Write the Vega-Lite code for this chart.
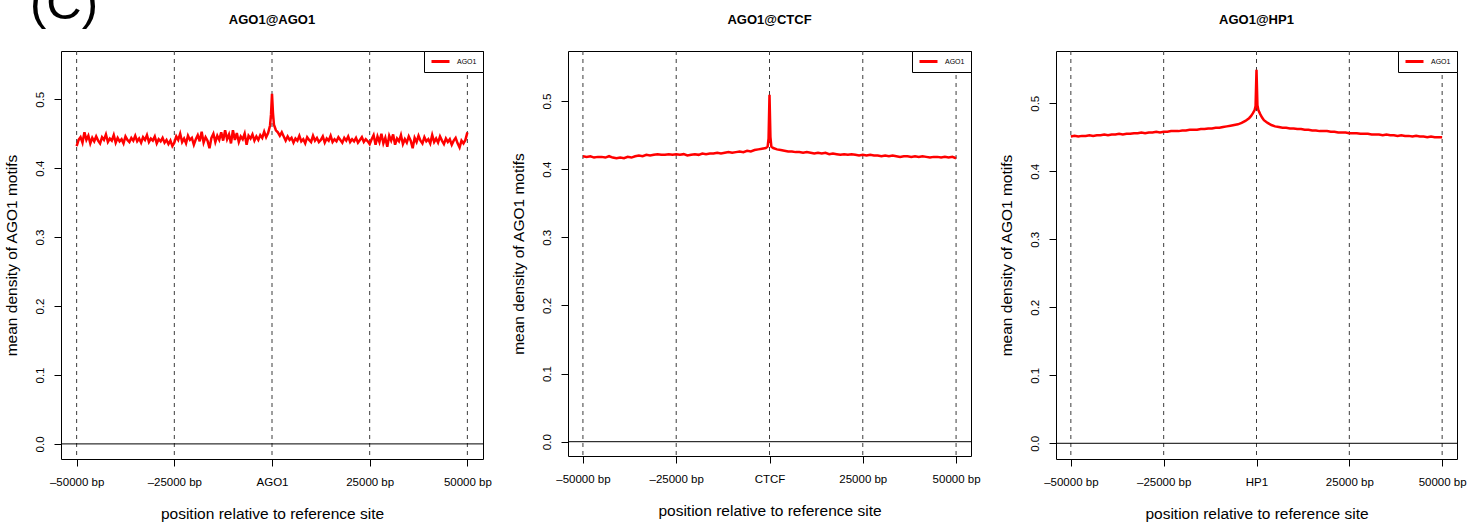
{
"$schema": "https://vega.github.io/schema/vega-lite/v6.json",
"autosize": {"type": "none"},
"padding": {"left": 61, "top": 51, "right": 1417, "bottom": 473},
"title": {"text": "(C)", "anchor": "start", "frame": "group", "fontSize": 49, "fontWeight": "normal", "offset": 0, "baseline": "bottom", "dx": -31, "dy": 65},
"spacing": 85,
"bounds": "flush",
"datasets": {
"guides": [{"pos": -50000}, {"pos": -25000}, {"pos": 0}, {"pos": 25000}, {"pos": 50000}],
"zero": [{"level": 0}],
"ago": [
{"pos":-50000,"density":0.432},{"pos":-49500,"density":0.441},{"pos":-49000,"density":0.445},{"pos":-48500,"density":0.437},{"pos":-48000,"density":0.452},{"pos":-47500,"density":0.441},{"pos":-47000,"density":0.447},{"pos":-46500,"density":0.436},{"pos":-46000,"density":0.444},{"pos":-45500,"density":0.439},
{"pos":-45000,"density":0.446},{"pos":-44500,"density":0.440},{"pos":-44000,"density":0.436},{"pos":-43500,"density":0.445},{"pos":-43000,"density":0.441},{"pos":-42500,"density":0.449},{"pos":-42000,"density":0.438},{"pos":-41500,"density":0.443},{"pos":-41000,"density":0.440},{"pos":-40500,"density":0.448},
{"pos":-40000,"density":0.437},{"pos":-39500,"density":0.444},{"pos":-39000,"density":0.439},{"pos":-38500,"density":0.442},{"pos":-38000,"density":0.436},{"pos":-37500,"density":0.446},{"pos":-37000,"density":0.441},{"pos":-36500,"density":0.438},{"pos":-36000,"density":0.444},{"pos":-35500,"density":0.440},
{"pos":-35000,"density":0.447},{"pos":-34500,"density":0.439},{"pos":-34000,"density":0.443},{"pos":-33500,"density":0.437},{"pos":-33000,"density":0.445},{"pos":-32500,"density":0.441},{"pos":-32000,"density":0.448},{"pos":-31500,"density":0.438},{"pos":-31000,"density":0.443},{"pos":-30500,"density":0.440},
{"pos":-30000,"density":0.446},{"pos":-29500,"density":0.436},{"pos":-29000,"density":0.442},{"pos":-28500,"density":0.439},{"pos":-28000,"density":0.444},{"pos":-27500,"density":0.437},{"pos":-27000,"density":0.441},{"pos":-26500,"density":0.435},{"pos":-26000,"density":0.440},{"pos":-25500,"density":0.432},
{"pos":-25000,"density":0.437},{"pos":-24500,"density":0.446},{"pos":-24000,"density":0.441},{"pos":-23500,"density":0.450},{"pos":-23000,"density":0.438},{"pos":-22500,"density":0.443},{"pos":-22000,"density":0.436},{"pos":-21500,"density":0.447},{"pos":-21000,"density":0.441},{"pos":-20500,"density":0.444},
{"pos":-20000,"density":0.434},{"pos":-19500,"density":0.442},{"pos":-19000,"density":0.448},{"pos":-18500,"density":0.439},{"pos":-18000,"density":0.453},{"pos":-17500,"density":0.437},{"pos":-17000,"density":0.445},{"pos":-16500,"density":0.440},{"pos":-16000,"density":0.429},{"pos":-15500,"density":0.444},
{"pos":-15000,"density":0.450},{"pos":-14500,"density":0.438},{"pos":-14000,"density":0.447},{"pos":-13500,"density":0.441},{"pos":-13000,"density":0.452},{"pos":-12500,"density":0.440},{"pos":-12000,"density":0.455},{"pos":-11500,"density":0.442},{"pos":-11000,"density":0.449},{"pos":-10500,"density":0.436},
{"pos":-10000,"density":0.455},{"pos":-9500,"density":0.441},{"pos":-9000,"density":0.451},{"pos":-8500,"density":0.438},{"pos":-8000,"density":0.446},{"pos":-7500,"density":0.442},{"pos":-7000,"density":0.450},{"pos":-6500,"density":0.434},{"pos":-6000,"density":0.447},{"pos":-5500,"density":0.443},
{"pos":-5000,"density":0.449},{"pos":-4500,"density":0.440},{"pos":-4000,"density":0.446},{"pos":-3500,"density":0.441},{"pos":-3000,"density":0.448},{"pos":-2500,"density":0.444},{"pos":-2000,"density":0.453},{"pos":-1500,"density":0.445},{"pos":-1000,"density":0.451},{"pos":-500,"density":0.462},
{"pos":-250,"density":0.478},{"pos":0,"density":0.508},{"pos":250,"density":0.480},{"pos":500,"density":0.463},{"pos":1000,"density":0.455},{"pos":1500,"density":0.452},{"pos":2000,"density":0.447},{"pos":2500,"density":0.452},{"pos":3000,"density":0.446},{"pos":3500,"density":0.440},
{"pos":4000,"density":0.446},{"pos":4500,"density":0.441},{"pos":5000,"density":0.444},{"pos":5500,"density":0.437},{"pos":6000,"density":0.443},{"pos":6500,"density":0.440},{"pos":7000,"density":0.447},{"pos":7500,"density":0.439},{"pos":8000,"density":0.442},{"pos":8500,"density":0.436},
{"pos":9000,"density":0.445},{"pos":9500,"density":0.441},{"pos":10000,"density":0.438},{"pos":10500,"density":0.447},{"pos":11000,"density":0.440},{"pos":11500,"density":0.444},{"pos":12000,"density":0.438},{"pos":12500,"density":0.441},{"pos":13000,"density":0.446},{"pos":13500,"density":0.437},
{"pos":14000,"density":0.443},{"pos":14500,"density":0.440},{"pos":15000,"density":0.447},{"pos":15500,"density":0.438},{"pos":16000,"density":0.442},{"pos":16500,"density":0.439},{"pos":17000,"density":0.445},{"pos":17500,"density":0.441},{"pos":18000,"density":0.437},{"pos":18500,"density":0.444},
{"pos":19000,"density":0.440},{"pos":19500,"density":0.446},{"pos":20000,"density":0.438},{"pos":20500,"density":0.442},{"pos":21000,"density":0.439},{"pos":21500,"density":0.444},{"pos":22000,"density":0.437},{"pos":22500,"density":0.441},{"pos":23000,"density":0.445},{"pos":23500,"density":0.438},
{"pos":24000,"density":0.442},{"pos":24500,"density":0.439},{"pos":25000,"density":0.435},{"pos":25500,"density":0.442},{"pos":26000,"density":0.448},{"pos":26500,"density":0.434},{"pos":27000,"density":0.446},{"pos":27500,"density":0.438},{"pos":28000,"density":0.450},{"pos":28500,"density":0.436},
{"pos":29000,"density":0.444},{"pos":29500,"density":0.431},{"pos":30000,"density":0.447},{"pos":30500,"density":0.440},{"pos":31000,"density":0.449},{"pos":31500,"density":0.434},{"pos":32000,"density":0.443},{"pos":32500,"density":0.439},{"pos":33000,"density":0.448},{"pos":33500,"density":0.435},
{"pos":34000,"density":0.442},{"pos":34500,"density":0.437},{"pos":35000,"density":0.446},{"pos":35500,"density":0.440},{"pos":36000,"density":0.429},{"pos":36500,"density":0.444},{"pos":37000,"density":0.438},{"pos":37500,"density":0.447},{"pos":38000,"density":0.440},{"pos":38500,"density":0.436},
{"pos":39000,"density":0.445},{"pos":39500,"density":0.439},{"pos":40000,"density":0.442},{"pos":40500,"density":0.436},{"pos":41000,"density":0.448},{"pos":41500,"density":0.438},{"pos":42000,"density":0.443},{"pos":42500,"density":0.437},{"pos":43000,"density":0.446},{"pos":43500,"density":0.440},
{"pos":44000,"density":0.435},{"pos":44500,"density":0.443},{"pos":45000,"density":0.438},{"pos":45500,"density":0.442},{"pos":46000,"density":0.434},{"pos":46500,"density":0.440},{"pos":47000,"density":0.444},{"pos":47500,"density":0.436},{"pos":48000,"density":0.430},{"pos":48500,"density":0.440},
{"pos":49000,"density":0.436},{"pos":49500,"density":0.441},{"pos":50000,"density":0.452}
],
"ctcf": [
{"pos":-50000,"density":0.419},{"pos":-49000,"density":0.418},{"pos":-48000,"density":0.419},{"pos":-47000,"density":0.417},{"pos":-46000,"density":0.418},{"pos":-45000,"density":0.418},{"pos":-44000,"density":0.417},{"pos":-43000,"density":0.419},{"pos":-42000,"density":0.417},{"pos":-41000,"density":0.416},
{"pos":-40000,"density":0.417},{"pos":-39000,"density":0.416},{"pos":-38000,"density":0.418},{"pos":-37000,"density":0.417},{"pos":-36000,"density":0.419},{"pos":-35000,"density":0.420},{"pos":-34000,"density":0.419},{"pos":-33000,"density":0.421},{"pos":-32000,"density":0.420},{"pos":-31000,"density":0.421},
{"pos":-30000,"density":0.422},{"pos":-29000,"density":0.421},{"pos":-28000,"density":0.421},{"pos":-27000,"density":0.422},{"pos":-26000,"density":0.421},{"pos":-25000,"density":0.422},{"pos":-24000,"density":0.421},{"pos":-23000,"density":0.422},{"pos":-22000,"density":0.420},{"pos":-21000,"density":0.421},
{"pos":-20000,"density":0.422},{"pos":-19000,"density":0.421},{"pos":-18000,"density":0.423},{"pos":-17000,"density":0.422},{"pos":-16000,"density":0.423},{"pos":-15000,"density":0.423},{"pos":-14000,"density":0.424},{"pos":-13000,"density":0.423},{"pos":-12000,"density":0.424},{"pos":-11000,"density":0.425},
{"pos":-10000,"density":0.424},{"pos":-9000,"density":0.425},{"pos":-8000,"density":0.426},{"pos":-7000,"density":0.425},{"pos":-6000,"density":0.427},{"pos":-5000,"density":0.426},{"pos":-4000,"density":0.428},{"pos":-3000,"density":0.429},{"pos":-2000,"density":0.430},{"pos":-1000,"density":0.431},
{"pos":-500,"density":0.433},{"pos":-250,"density":0.445},{"pos":0,"density":0.509},{"pos":250,"density":0.447},{"pos":500,"density":0.433},{"pos":1000,"density":0.431},{"pos":2000,"density":0.429},{"pos":3000,"density":0.428},{"pos":4000,"density":0.427},{"pos":5000,"density":0.426},
{"pos":6000,"density":0.426},{"pos":7000,"density":0.425},{"pos":8000,"density":0.425},{"pos":9000,"density":0.424},{"pos":10000,"density":0.425},{"pos":11000,"density":0.424},{"pos":12000,"density":0.423},{"pos":13000,"density":0.424},{"pos":14000,"density":0.423},{"pos":15000,"density":0.424},
{"pos":16000,"density":0.422},{"pos":17000,"density":0.423},{"pos":18000,"density":0.422},{"pos":19000,"density":0.421},{"pos":20000,"density":0.422},{"pos":21000,"density":0.421},{"pos":22000,"density":0.422},{"pos":23000,"density":0.421},{"pos":24000,"density":0.420},{"pos":25000,"density":0.421},
{"pos":26000,"density":0.420},{"pos":27000,"density":0.421},{"pos":28000,"density":0.420},{"pos":29000,"density":0.420},{"pos":30000,"density":0.419},{"pos":31000,"density":0.420},{"pos":32000,"density":0.419},{"pos":33000,"density":0.420},{"pos":34000,"density":0.419},{"pos":35000,"density":0.418},
{"pos":36000,"density":0.419},{"pos":37000,"density":0.419},{"pos":38000,"density":0.418},{"pos":39000,"density":0.419},{"pos":40000,"density":0.418},{"pos":41000,"density":0.419},{"pos":42000,"density":0.418},{"pos":43000,"density":0.417},{"pos":44000,"density":0.418},{"pos":45000,"density":0.418},
{"pos":46000,"density":0.417},{"pos":47000,"density":0.418},{"pos":48000,"density":0.417},{"pos":49000,"density":0.418},{"pos":50000,"density":0.416}
],
"hp1": [
{"pos":-50000,"density":0.451},{"pos":-49000,"density":0.452},{"pos":-48000,"density":0.451},{"pos":-47000,"density":0.452},{"pos":-46000,"density":0.452},{"pos":-45000,"density":0.453},{"pos":-44000,"density":0.452},{"pos":-43000,"density":0.453},{"pos":-42000,"density":0.453},{"pos":-41000,"density":0.454},
{"pos":-40000,"density":0.453},{"pos":-39000,"density":0.454},{"pos":-38000,"density":0.454},{"pos":-37000,"density":0.455},{"pos":-36000,"density":0.454},{"pos":-35000,"density":0.455},{"pos":-34000,"density":0.455},{"pos":-33000,"density":0.456},{"pos":-32000,"density":0.456},{"pos":-31000,"density":0.457},
{"pos":-30000,"density":0.456},{"pos":-29000,"density":0.457},{"pos":-28000,"density":0.457},{"pos":-27000,"density":0.458},{"pos":-26000,"density":0.457},{"pos":-25000,"density":0.458},{"pos":-24000,"density":0.458},{"pos":-23000,"density":0.459},{"pos":-22000,"density":0.459},{"pos":-21000,"density":0.459},
{"pos":-20000,"density":0.460},{"pos":-19000,"density":0.460},{"pos":-18000,"density":0.461},{"pos":-17000,"density":0.461},{"pos":-16000,"density":0.461},{"pos":-15000,"density":0.462},{"pos":-14000,"density":0.462},{"pos":-13000,"density":0.463},{"pos":-12000,"density":0.463},{"pos":-11000,"density":0.464},
{"pos":-10000,"density":0.464},{"pos":-9000,"density":0.465},{"pos":-8000,"density":0.466},{"pos":-7000,"density":0.467},{"pos":-6000,"density":0.468},{"pos":-5000,"density":0.469},{"pos":-4000,"density":0.471},{"pos":-3000,"density":0.474},{"pos":-2000,"density":0.478},{"pos":-1500,"density":0.481},
{"pos":-1000,"density":0.485},{"pos":-500,"density":0.490},{"pos":-250,"density":0.496},{"pos":0,"density":0.549},{"pos":250,"density":0.497},{"pos":500,"density":0.490},{"pos":1000,"density":0.484},{"pos":1500,"density":0.479},{"pos":2000,"density":0.475},{"pos":3000,"density":0.471},
{"pos":4000,"density":0.468},{"pos":5000,"density":0.466},{"pos":6000,"density":0.465},{"pos":7000,"density":0.464},{"pos":8000,"density":0.464},{"pos":9000,"density":0.463},{"pos":10000,"density":0.463},{"pos":11000,"density":0.462},{"pos":12000,"density":0.462},{"pos":13000,"density":0.461},
{"pos":14000,"density":0.461},{"pos":15000,"density":0.460},{"pos":16000,"density":0.460},{"pos":17000,"density":0.459},{"pos":18000,"density":0.459},{"pos":19000,"density":0.459},{"pos":20000,"density":0.458},{"pos":21000,"density":0.458},{"pos":22000,"density":0.457},{"pos":23000,"density":0.457},
{"pos":24000,"density":0.457},{"pos":25000,"density":0.456},{"pos":26000,"density":0.456},{"pos":27000,"density":0.456},{"pos":28000,"density":0.455},{"pos":29000,"density":0.455},{"pos":30000,"density":0.455},{"pos":31000,"density":0.454},{"pos":32000,"density":0.454},{"pos":33000,"density":0.454},
{"pos":34000,"density":0.453},{"pos":35000,"density":0.454},{"pos":36000,"density":0.453},{"pos":37000,"density":0.453},{"pos":38000,"density":0.452},{"pos":39000,"density":0.453},{"pos":40000,"density":0.452},{"pos":41000,"density":0.452},{"pos":42000,"density":0.451},{"pos":43000,"density":0.452},
{"pos":44000,"density":0.451},{"pos":45000,"density":0.451},{"pos":46000,"density":0.450},{"pos":47000,"density":0.451},{"pos":48000,"density":0.450},{"pos":49000,"density":0.450},{"pos":50000,"density":0.450}
]
},
"hconcat": [
{
"width": 422, "height": 408,
"title": {"text": "AGO1@AGO1"},
"layer": [
{"data": {"name": "guides"}, "mark": {"type": "rule", "color": "#3c3c3c", "strokeWidth": 1, "strokeDash": [4, 4]},
 "encoding": {"x": {"field": "pos", "type": "quantitative", "scale": {"domain": [-54000, 54000], "nice": false, "zero": false},
        "axis": {"values": [-50000, -25000, 0, 25000, 50000], "title": "position relative to reference site", "labelExpr": "datum.value == 0 ? 'AGO1' : (datum.value < 0 ? '\u2013' : '') + abs(datum.value) + ' bp'"}}}},
{"data": {"name": "zero"}, "mark": {"type": "rule", "color": "#000", "strokeWidth": 1},
 "encoding": {"y": {"field": "level", "type": "quantitative", "scale": {"domain": [-0.0219, 0.570], "nice": false, "zero": false},
        "axis": {"values": [0, 0.1, 0.2, 0.3, 0.4, 0.5], "format": ".1f", "title": "mean density of AGO1 motifs"}}}},
{"data": {"name": "ago"}, "mark": {"type": "line", "strokeWidth": 2.5},
 "encoding": {
  "x": {"field": "pos", "type": "quantitative", "scale": {"domain": [-54000, 54000], "nice": false, "zero": false},
        "axis": {"values": [-50000, -25000, 0, 25000, 50000], "title": "position relative to reference site", "labelExpr": "datum.value == 0 ? 'AGO1' : (datum.value < 0 ? '\u2013' : '') + abs(datum.value) + ' bp'"}},
  "y": {"field": "density", "type": "quantitative", "scale": {"domain": [-0.0219, 0.570], "nice": false, "zero": false},
        "axis": {"values": [0, 0.1, 0.2, 0.3, 0.4, 0.5], "format": ".1f", "title": "mean density of AGO1 motifs"}},
  "color": {"datum": "AGO1", "type": "nominal", "scale": {"range": ["#ff0000"]}, "legend": {"title": null}}
 }}
]
},
{
"width": 403, "height": 405,
"title": {"text": "AGO1@CTCF"},
"layer": [
{"data": {"name": "guides"}, "mark": {"type": "rule", "color": "#3c3c3c", "strokeWidth": 1, "strokeDash": [4, 4]},
 "encoding": {"x": {"field": "pos", "type": "quantitative", "scale": {"domain": [-54000, 54000], "nice": false, "zero": false},
        "axis": {"values": [-50000, -25000, 0, 25000, 50000], "title": "position relative to reference site", "labelExpr": "datum.value == 0 ? 'CTCF' : (datum.value < 0 ? '\u2013' : '') + abs(datum.value) + ' bp'"}}}},
{"data": {"name": "zero"}, "mark": {"type": "rule", "color": "#000", "strokeWidth": 1},
 "encoding": {"y": {"field": "level", "type": "quantitative", "scale": {"domain": [-0.021, 0.5734], "nice": false, "zero": false},
        "axis": {"values": [0, 0.1, 0.2, 0.3, 0.4, 0.5], "format": ".1f", "title": "mean density of AGO1 motifs"}}}},
{"data": {"name": "ctcf"}, "mark": {"type": "line", "strokeWidth": 2.5},
 "encoding": {
  "x": {"field": "pos", "type": "quantitative", "scale": {"domain": [-54000, 54000], "nice": false, "zero": false},
        "axis": {"values": [-50000, -25000, 0, 25000, 50000], "title": "position relative to reference site", "labelExpr": "datum.value == 0 ? 'CTCF' : (datum.value < 0 ? '\u2013' : '') + abs(datum.value) + ' bp'"}},
  "y": {"field": "density", "type": "quantitative", "scale": {"domain": [-0.021, 0.5734], "nice": false, "zero": false},
        "axis": {"values": [0, 0.1, 0.2, 0.3, 0.4, 0.5], "format": ".1f", "title": "mean density of AGO1 motifs"}},
  "color": {"datum": "AGO1", "type": "nominal", "scale": {"range": ["#ff0000"]}, "legend": {"title": null}}
 }}
]
},
{
"width": 401, "height": 408,
"title": {"text": "AGO1@HP1"},
"layer": [
{"data": {"name": "guides"}, "mark": {"type": "rule", "color": "#3c3c3c", "strokeWidth": 1, "strokeDash": [4, 4]},
 "encoding": {"x": {"field": "pos", "type": "quantitative", "scale": {"domain": [-54000, 54000], "nice": false, "zero": false},
        "axis": {"values": [-50000, -25000, 0, 25000, 50000], "title": "position relative to reference site", "labelExpr": "datum.value == 0 ? 'HP1' : (datum.value < 0 ? '\u2013' : '') + abs(datum.value) + ' bp'"}}}},
{"data": {"name": "zero"}, "mark": {"type": "rule", "color": "#000", "strokeWidth": 1},
 "encoding": {"y": {"field": "level", "type": "quantitative", "scale": {"domain": [-0.0231, 0.5768], "nice": false, "zero": false},
        "axis": {"values": [0, 0.1, 0.2, 0.3, 0.4, 0.5], "format": ".1f", "title": "mean density of AGO1 motifs"}}}},
{"data": {"name": "hp1"}, "mark": {"type": "line", "strokeWidth": 2.5},
 "encoding": {
  "x": {"field": "pos", "type": "quantitative", "scale": {"domain": [-54000, 54000], "nice": false, "zero": false},
        "axis": {"values": [-50000, -25000, 0, 25000, 50000], "title": "position relative to reference site", "labelExpr": "datum.value == 0 ? 'HP1' : (datum.value < 0 ? '\u2013' : '') + abs(datum.value) + ' bp'"}},
  "y": {"field": "density", "type": "quantitative", "scale": {"domain": [-0.0231, 0.5768], "nice": false, "zero": false},
        "axis": {"values": [0, 0.1, 0.2, 0.3, 0.4, 0.5], "format": ".1f", "title": "mean density of AGO1 motifs"}},
  "color": {"datum": "AGO1", "type": "nominal", "scale": {"range": ["#ff0000"]}, "legend": {"title": null}}
 }}
]
}
],
"resolve": {"scale": {"color": "independent", "x": "independent", "y": "independent"}, "legend": {"color": "independent"}, "axis": {"x": "independent", "y": "independent"}},
"config": {
 "font": "Liberation Sans",
 "view": {"stroke": "#000", "strokeWidth": 1},
 "axis": {"grid": false, "domain": false, "ticks": true, "tickColor": "#000", "tickSize": 7, "labelColor": "#000", "labelFontSize": 11.5, "labelFont": "Liberation Sans", "labelOverlap": false, "labelFlush": false, "titleFont": "Liberation Sans", "titleFontSize": 15.5, "titleFontWeight": "normal", "titleColor": "#000"},
 "axisX": {"labelPadding": 10, "titlePadding": 19},
 "axisY": {"labelAngle": 270, "labelAlign": "center", "labelBaseline": "bottom", "labelPadding": 9, "titlePadding": 15},
 "title": {"font": "Liberation Sans", "fontSize": 13, "fontWeight": "bold", "color": "#000", "offset": 24, "anchor": "middle"},
 "legend": {"orient": "top-right", "offset": 0, "padding": 6, "strokeColor": "#000", "strokeWidth": 1, "fillColor": "#fff", "symbolType": "stroke", "symbolStrokeWidth": 3, "symbolSize": 324, "labelFontSize": 7, "labelOffset": 6, "clipHeight": 9, "labelColor": "#000"}
}
}
